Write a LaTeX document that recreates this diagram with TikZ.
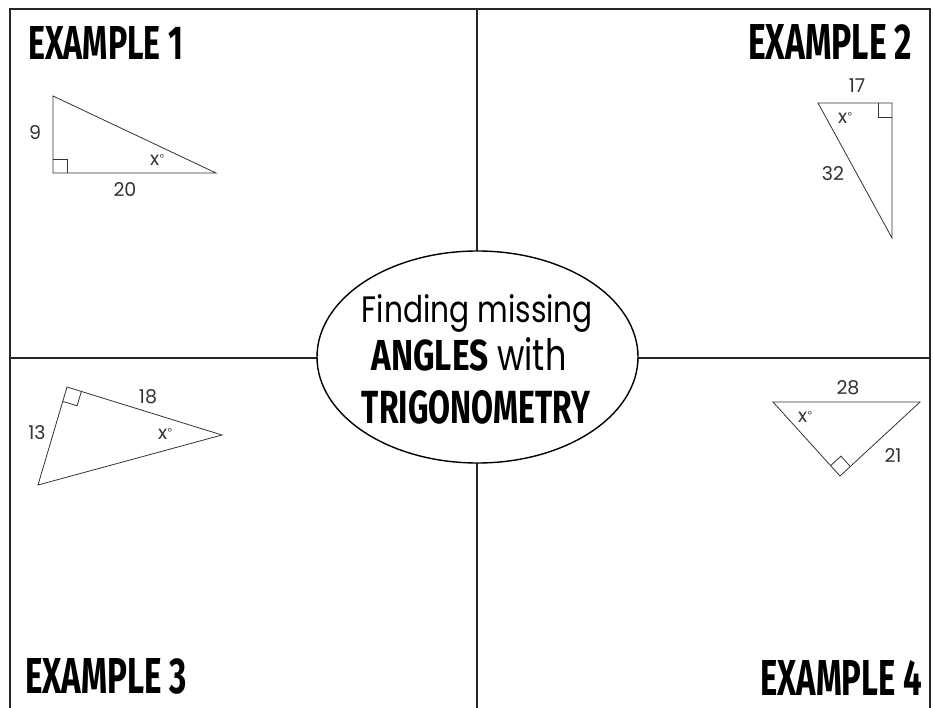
\documentclass[tikz,border=0pt]{standalone}
\usepackage{fontspec}
\setmainfont{Poppins}
\newfontfamily\headfont{Fira Sans}
\usetikzlibrary{shapes.geometric,calc}
\newcommand{\xdeg}{x\kern0.5pt\raisebox{0.22em}{\fontsize{10}{10}\selectfont°}}
\begin{document}
\begin{tikzpicture}[x=1pt,y=-1pt,
  frame/.style={line width=1.8pt, black!85},
  tri/.style={line width=0.8pt, black!80, line join=miter},
  lbl/.style={font=\fontsize{19}{19}\selectfont, inner sep=0, text=black!80},
  head/.style={inner sep=0, anchor=base west},
  mid/.style={inner sep=0, anchor=base}]
\useasboundingbox (0,0) rectangle (933,708);
\clip (0,0) rectangle (933,708);
\fill[white] (0,0) rectangle (933,708);

% frame and dividers
\coordinate (fa) at (10,715);
\coordinate (fb) at (10,9);
\coordinate (fc) at (930,9);
\coordinate (fd) at (930,715);
\coordinate (vt) at (477,9);
\coordinate (vb) at (477,715);
\coordinate (hl) at (10,358);
\coordinate (hr) at (930,358);
\draw[frame] (fa) -- (fb) -- (fc) -- (fd);
\draw[frame] (vt) -- (vb);
\draw[frame] (hl) -- (hr);

% central ellipse
\node[draw, ellipse, fill=white, line width=1.4pt, minimum width=321pt, minimum height=212pt, inner sep=0] (title) at (477.5,357) {};
\node[mid] (t1) at (477.5,322) {\resizebox{231pt}{28pt}{Finding missing}};
\node[mid] (t2) at (469,370) {\resizebox{195pt}{33pt}{{\headfont\bfseries ANGLES} with}};
\node[mid] (t3) at (476,423) {\resizebox{228pt}{33pt}{\headfont\bfseries TRIGONOMETRY}};

% headings
\node[head] (e1) at (28,60) {\resizebox{155pt}{33pt}{\headfont\bfseries EXAMPLE 1}};
\node[head] (e2) at (748,60) {\resizebox{164pt}{35pt}{\headfont\bfseries EXAMPLE 2}};
\node[head] (e3) at (25,693) {\resizebox{162pt}{35pt}{\headfont\bfseries EXAMPLE 3}};
\node[head] (e4) at (760,695) {\resizebox{162pt}{35pt}{\headfont\bfseries EXAMPLE 4}};

% triangle 1
\coordinate (a1) at (53,96);
\coordinate (b1) at (53,173);
\coordinate (c1) at (216,173);
\draw[tri] (a1) -- (b1) -- (c1) -- cycle;
\coordinate (p1) at ($(b1)!14pt!(a1)$);
\coordinate (q1) at ($(b1)!14pt!(c1)$);
\draw[tri] (p1) -- ($(p1)+(q1)-(b1)$) -- (q1);
\node[lbl] (n9) at (35,133) {9};
\node[lbl] (n20) at (125,190) {20};
\node[lbl] (x1) at (157,160) {\xdeg};

% triangle 2
\coordinate (a2) at (818,103);
\coordinate (b2) at (892,103);
\coordinate (c2) at (892,238);
\draw[tri] (a2) -- (b2) -- (c2) -- cycle;
\coordinate (p2) at ($(b2)!14pt!(a2)$);
\coordinate (q2) at ($(b2)!14pt!(c2)$);
\draw[tri] (p2) -- ($(p2)+(q2)-(b2)$) -- (q2);
\node[lbl] (n17) at (857,86) {17};
\node[lbl] (x2) at (845,118) {\xdeg};
\node[lbl] (n32) at (833,174) {32};

% triangle 3
\coordinate (a3) at (38,485);
\coordinate (b3) at (67,387);
\coordinate (c3) at (222,435);
\draw[tri] (a3) -- (b3) -- (c3) -- cycle;
\coordinate (p3) at ($(b3)!15pt!(a3)$);
\coordinate (q3) at ($(b3)!15pt!(c3)$);
\draw[tri] (p3) -- ($(p3)+(q3)-(b3)$) -- (q3);
\node[lbl] (n18) at (148,397) {18};
\node[lbl] (n13) at (37,433) {13};
\node[lbl] (x3) at (165,434) {\xdeg};

% triangle 4
\coordinate (a4) at (773,402);
\coordinate (b4) at (840,476);
\coordinate (c4) at (920,402);
\draw[tri] (a4) -- (b4) -- (c4) -- cycle;
\coordinate (p4) at ($(b4)!14pt!(a4)$);
\coordinate (q4) at ($(b4)!14pt!(c4)$);
\draw[tri] (p4) -- ($(p4)+(q4)-(b4)$) -- (q4);
\node[lbl] (n28) at (848,388) {28};
\node[lbl] (x4) at (805,417) {\xdeg};
\node[lbl] (n21) at (893,456) {21};
\end{tikzpicture}
\end{document}
